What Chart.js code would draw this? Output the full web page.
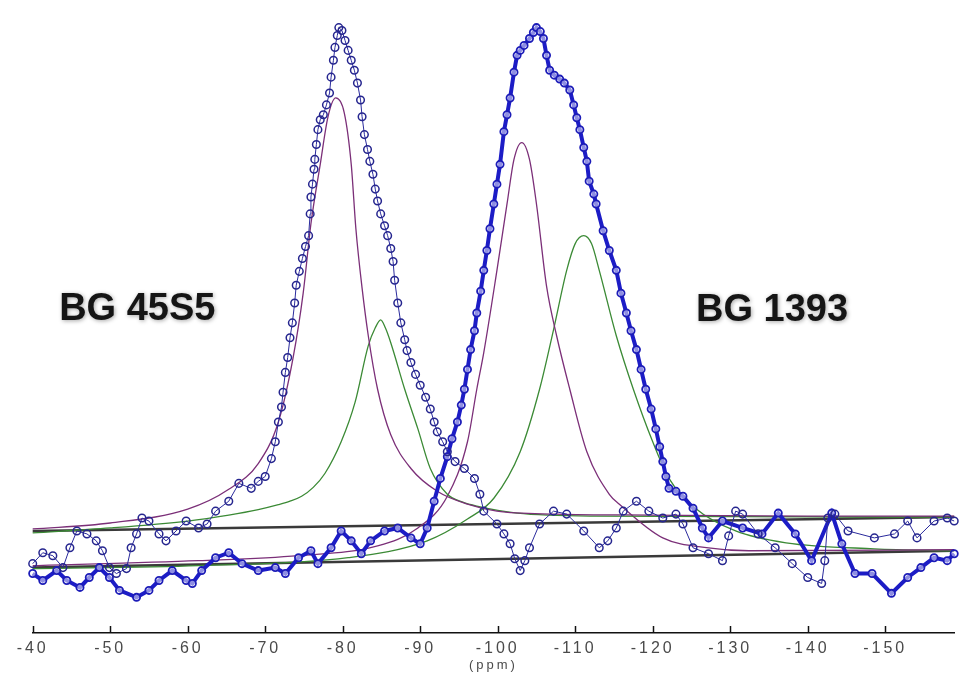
<!DOCTYPE html>
<html>
<head>
<meta charset="utf-8">
<script src="https://cdn.jsdelivr.net/npm/chart.js@4.4.0/dist/chart.umd.min.js"></script>
<style>
  html, body { margin: 0; padding: 0; background: #ffffff; }
  #wrap { width: 960px; height: 677px; }
</style>
</head>
<body>
<div id="wrap"><canvas id="nmr" width="960" height="677"></canvas></div>
<script>
// chemical shift ticks (ppm)
const ppmTicks = [-40, -50, -60, -70, -80, -90, -100, -110, -120, -130, -140, -150];

// BG 45S5 measured spectrum
const bg45Ppm = [-40.0, -41.3, -42.6, -43.9, -44.8, -45.7, -47.0, -48.2, -49.0, -49.9, -50.8, -52.1, -52.7, -53.4, -54.1, -55.0, -56.3, -57.2, -58.5, -59.8, -61.4, -62.5, -63.6, -65.3, -66.6, -68.2, -69.1, -70.0, -70.8, -71.3, -71.7, -72.1, -72.3, -72.6, -72.9, -73.2, -73.5, -73.8, -74.0, -74.4, -74.8, -75.2, -75.6, -75.8, -75.9, -76.1, -76.3, -76.4, -76.6, -76.8, -77.1, -77.5, -77.9, -78.3, -78.5, -78.8, -79.0, -79.3, -79.5, -79.9, -80.3, -80.7, -81.1, -81.5, -81.9, -82.3, -82.5, -82.8, -83.2, -83.5, -83.9, -84.2, -84.5, -84.9, -85.4, -85.8, -86.2, -86.5, -86.7, -87.1, -87.5, -88.0, -88.3, -88.8, -89.4, -90.0, -90.7, -91.3, -91.8, -92.2, -92.9, -93.5, -94.5, -95.7, -97.0, -97.7, -98.2, -99.9, -100.8, -101.6, -102.2, -102.9, -103.5, -104.1, -105.4, -107.2, -108.9, -111.1, -113.1, -114.2, -115.3, -116.2, -117.9, -119.5, -121.3, -123.0, -123.9, -125.2, -127.2, -129.0, -129.8, -130.7, -131.6, -133.6, -135.8, -138.0, -140.0, -141.8, -142.2, -142.6, -143.5, -145.2, -148.6, -151.2, -152.9, -154.1, -156.3, -158.0, -158.9];
const bg45Int = [3.4, 5.6, 5.0, 2.6, 6.6, 10.0, 9.4, 8.0, 6.0, 2.6, 1.4, 2.4, 6.6, 9.4, 12.6, 12.0, 9.4, 8.0, 10.0, 12.0, 10.6, 11.4, 14.0, 16.0, 19.6, 18.6, 20.0, 21.0, 24.6, 28.0, 32.0, 35.0, 38.0, 42.0, 45.0, 49.0, 52.0, 56.0, 59.6, 62.4, 65.0, 67.4, 69.6, 74.0, 77.4, 80.0, 83.0, 85.0, 88.0, 91.0, 93.0, 94.0, 96.0, 98.4, 101.6, 105.0, 107.6, 110.0, 111.6, 111.0, 109.0, 107.0, 105.0, 103.0, 100.4, 97.0, 93.6, 90.0, 87.0, 84.6, 82.0, 79.0, 76.6, 74.0, 71.6, 69.6, 67.0, 64.4, 60.6, 56.0, 52.0, 48.6, 46.4, 44.0, 41.6, 39.4, 37.0, 34.6, 32.0, 30.0, 28.0, 26.0, 24.0, 22.6, 20.6, 17.4, 14.0, 11.4, 9.4, 7.4, 4.4, 2.0, 4.0, 6.6, 11.4, 14.0, 13.4, 10.0, 6.6, 8.0, 10.6, 14.0, 16.0, 14.0, 12.6, 13.4, 11.4, 6.6, 5.4, 4.0, 9.0, 14.0, 13.4, 9.4, 6.6, 3.4, 0.6, -0.6, 4.0, 12.6, 13.4, 10.0, 8.6, 9.4, 12.0, 8.6, 12.0, 12.6, 12.0];

// BG 1393 measured spectrum
const bg1393Ppm = [-40.0, -41.3, -43.1, -44.4, -46.1, -47.3, -48.6, -49.9, -51.2, -53.4, -55.0, -56.3, -58.0, -59.8, -60.6, -61.8, -63.6, -65.3, -67.0, -69.1, -71.3, -72.6, -74.3, -75.9, -76.8, -78.5, -79.8, -81.1, -82.4, -83.6, -85.4, -87.1, -88.8, -90.0, -90.9, -91.8, -92.6, -93.5, -94.1, -94.8, -95.3, -95.7, -96.1, -96.5, -97.0, -97.3, -97.8, -98.2, -98.6, -99.0, -99.5, -99.9, -100.3, -100.8, -101.2, -101.6, -102.1, -102.5, -102.9, -103.4, -104.1, -104.6, -105.0, -105.5, -105.9, -106.3, -106.7, -107.3, -108.0, -108.6, -109.3, -109.8, -110.2, -110.6, -111.1, -111.5, -111.8, -112.4, -112.7, -113.6, -114.4, -115.3, -115.9, -116.6, -117.2, -117.9, -118.5, -119.1, -119.8, -120.4, -120.9, -121.3, -121.7, -122.1, -123.0, -123.9, -125.2, -126.4, -127.2, -129.0, -131.6, -134.1, -136.2, -138.4, -140.5, -143.1, -144.4, -146.1, -148.3, -150.8, -152.9, -154.6, -156.3, -158.0, -158.9];
const bg1393Int = [1.4, 0.0, 2.0, 0.0, -1.4, 0.6, 2.6, 0.6, -2.0, -3.4, -2.0, 0.0, 2.0, 0.0, -0.6, 2.0, 4.6, 5.6, 3.4, 2.0, 2.6, 1.4, 4.6, 6.0, 3.4, 6.6, 10.0, 8.0, 5.4, 8.0, 10.0, 10.6, 8.6, 7.4, 10.6, 16.0, 20.6, 25.0, 28.6, 32.0, 35.4, 38.6, 42.6, 46.6, 50.4, 54.0, 58.4, 62.6, 66.6, 71.0, 76.0, 80.0, 84.0, 90.6, 94.0, 97.4, 102.6, 106.0, 107.0, 108.0, 109.4, 110.6, 111.6, 110.8, 109.4, 106.0, 103.0, 102.0, 101.2, 100.4, 99.0, 96.0, 93.4, 91.0, 87.4, 84.6, 80.6, 78.0, 76.0, 70.6, 66.6, 62.6, 58.0, 54.0, 50.4, 46.6, 42.6, 38.6, 34.6, 30.6, 27.0, 24.0, 21.0, 18.6, 18.0, 17.0, 14.6, 10.6, 8.6, 12.0, 10.6, 9.4, 13.6, 9.4, 4.0, 13.6, 7.4, 1.4, 1.4, -2.6, 0.6, 2.6, 4.6, 4.0, 5.4];

// fitted components, BG 45S5
const fit45aPpm = [-40.0, -50.0, -60.0, -65.3, -69.1, -71.7, -73.6, -74.9, -75.9, -77.1, -78.1, -79.1, -80.2, -81.1, -81.7, -82.5, -83.3, -84.5, -86.2, -88.8, -92.2, -96.1, -99.9, -107.6, -120.0, -140.0, -158.9];
const fit45aInt = [10.4, 11.6, 14.4, 18.4, 23.6, 32.0, 45.0, 58.0, 72.0, 84.0, 93.6, 97.4, 94.4, 84.0, 71.0, 59.0, 49.4, 38.6, 29.4, 22.6, 18.0, 15.4, 14.0, 13.4, 13.2, 13.0, 13.0];
const fit45bPpm = [-40.0, -50.0, -60.0, -65.3, -69.1, -71.7, -73.2, -74.7, -76.2, -77.7, -79.8, -81.6, -83.3, -84.2, -84.9, -85.5, -86.2, -88.0, -89.7, -91.3, -93.5, -95.5, -97.3, -102.5, -112.7, -158.9];
const fit45bInt = [9.6, 10.6, 12.0, 13.2, 14.3, 15.3, 16.0, 17.0, 18.8, 21.6, 28.0, 36.0, 47.4, 51.0, 52.6, 51.0, 48.0, 38.6, 30.6, 22.6, 17.4, 15.8, 15.0, 13.6, 13.0, 12.8];

// fitted components, BG 1393
const fit1393aPpm = [-40.0, -61.4, -74.3, -84.5, -89.7, -93.5, -96.1, -97.3, -98.2, -99.9, -101.2, -102.1, -103.1, -104.1, -105.0, -106.3, -107.6, -109.3, -111.5, -114.4, -115.7, -121.3, -127.2, -132.4, -158.9];
const fit1393aInt = [3.0, 4.0, 5.0, 7.0, 10.6, 17.0, 28.0, 38.6, 46.0, 62.6, 76.0, 85.0, 88.4, 85.0, 76.0, 59.4, 49.4, 38.6, 26.0, 17.4, 15.4, 8.6, 6.6, 6.0, 6.2];
const fit1393bPpm = [-40.0, -61.4, -80.7, -90.9, -96.1, -99.5, -102.9, -105.4, -107.2, -108.9, -110.0, -111.1, -112.1, -113.1, -115.3, -117.5, -120.0, -122.1, -125.5, -130.7, -137.2, -148.6, -158.9];
const fit1393bInt = [2.4, 3.0, 4.6, 8.0, 12.4, 16.6, 26.0, 38.6, 50.6, 62.6, 68.0, 69.6, 68.0, 62.6, 49.4, 38.6, 28.0, 20.6, 14.6, 10.0, 7.6, 6.4, 6.0];

// baselines
const base45Ppm = [-40.0, -158.9];
const base45Int = [10.0, 12.8];
const base1393Ppm = [-40.0, -158.9];
const base1393Int = [2.6, 6.0];

const sampleLabels = [
  { text: 'BG 45S5', ppm: -53.5, level: 52.6 },
  { text: 'BG 1393', ppm: -135.4, level: 52.4 }
];

function toPoints(xs, ys) {
  return xs.map((x, i) => ({ x: x, y: ys[i] }));
}

const lineDefaults = {
  showLine: true,
  pointRadius: 0,
  fill: false,
  clip: false
};

// axis ticks drawn upward from the axis line, plus the sample names
const upTicks = {
  id: 'upTicks',
  beforeDraw(chart) {
    chart.ctx.letterSpacing = '3px';
  },
  beforeDatasetsDraw(chart) {
    chart.ctx.letterSpacing = '0px';
    const xs = chart.scales.x;
    const ctx = chart.ctx;
    const y0 = chart.chartArea.bottom;
    ctx.save();
    ctx.strokeStyle = '#111';
    ctx.lineWidth = 1.5;
    ppmTicks.forEach(v => {
      const px = Math.round(xs.getPixelForValue(v)) + 0.5;
      ctx.beginPath();
      ctx.moveTo(px, y0);
      ctx.lineTo(px, y0 - 7);
      ctx.stroke();
    });
    ctx.restore();
  },
  afterDraw(chart) {
    const ctx = chart.ctx;
    ctx.save();
    ctx.font = 'bold 38px "Liberation Sans", Arial, sans-serif';
    ctx.fillStyle = '#151515';
    ctx.textAlign = 'center';
    ctx.textBaseline = 'alphabetic';
    ctx.shadowColor = 'rgba(0,0,0,0.35)';
    ctx.shadowBlur = 4;
    ctx.shadowOffsetX = 1;
    ctx.shadowOffsetY = 1;
    sampleLabels.forEach(l => {
      ctx.fillText(l.text, chart.scales.x.getPixelForValue(l.ppm), chart.scales.y.getPixelForValue(l.level));
    });
    ctx.restore();
  }
};

const chart = new Chart(document.getElementById('nmr'), {
  type: 'scatter',
  data: {
    datasets: [
      {
        ...lineDefaults,
        label: 'BG 45S5 baseline',
        data: toPoints(base45Ppm, base45Int),
        borderColor: '#3a3a3a',
        borderWidth: 2.5,
        order: 6
      },
      {
        ...lineDefaults,
        label: 'BG 1393 baseline',
        data: toPoints(base1393Ppm, base1393Int),
        borderColor: '#3a3a3a',
        borderWidth: 2.5,
        order: 6
      },
      {
        ...lineDefaults,
        label: 'BG 45S5 fit Q2',
        data: toPoints(fit45aPpm, fit45aInt),
        borderColor: '#7b2f78',
        borderWidth: 1.3,
        cubicInterpolationMode: 'monotone',
        order: 5
      },
      {
        ...lineDefaults,
        label: 'BG 45S5 fit Q3',
        data: toPoints(fit45bPpm, fit45bInt),
        borderColor: '#3b8a35',
        borderWidth: 1.3,
        cubicInterpolationMode: 'monotone',
        order: 5
      },
      {
        ...lineDefaults,
        label: 'BG 1393 fit Q3',
        data: toPoints(fit1393aPpm, fit1393aInt),
        borderColor: '#7b2f78',
        borderWidth: 1.3,
        cubicInterpolationMode: 'monotone',
        order: 5
      },
      {
        ...lineDefaults,
        label: 'BG 1393 fit Q4',
        data: toPoints(fit1393bPpm, fit1393bInt),
        borderColor: '#3b8a35',
        borderWidth: 1.3,
        cubicInterpolationMode: 'monotone',
        order: 5
      },
      {
        label: 'BG 1393',
        data: toPoints(bg1393Ppm, bg1393Int),
        showLine: true,
        borderColor: '#1c1cc6',
        borderWidth: 4,
        pointRadius: 3.6,
        pointBorderWidth: 1.8,
        pointBorderColor: '#1c1cb8',
        pointBackgroundColor: 'rgba(255,255,255,0.5)',
        clip: false,
        order: 2
      },
      {
        label: 'BG 45S5',
        data: toPoints(bg45Ppm, bg45Int),
        showLine: true,
        borderColor: '#2a2a9c',
        borderWidth: 1,
        pointRadius: 3.8,
        pointBorderWidth: 1.5,
        pointBorderColor: '#26268f',
        pointBackgroundColor: 'rgba(255,255,255,0)',
        clip: false,
        order: 1
      }
    ]
  },
  options: {
    responsive: false,
    animation: false,
    devicePixelRatio: 1,
    layout: { padding: { left: 32.7, right: 0, top: 0, bottom: 0 } },
    plugins: {
      legend: { display: false },
      tooltip: { enabled: false }
    },
    scales: {
      x: {
        type: 'linear',
        reverse: true,
        min: -158.9,
        max: -40,
        afterBuildTicks: scale => {
          scale.ticks = ppmTicks.map(v => ({ value: v }));
        },
        grid: { display: false, drawTicks: false },
        border: { display: true, color: '#111', width: 1.5 },
        ticks: {
          padding: 6,
          maxRotation: 0,
          autoSkip: false,
          color: '#4a4a4a',
          font: { family: '"Liberation Sans", Arial, sans-serif', size: 16, lineHeight: 1.2 },
          callback: v => String(v)
        },
        title: {
          display: true,
          text: '(ppm)',
          color: '#4a4a4a',
          font: { family: '"Liberation Sans", Arial, sans-serif', size: 13, lineHeight: 1.1 },
          padding: { top: -5.5, bottom: 4 }
        }
      },
      y: {
        display: false,
        min: -10.6,
        max: 116
      }
    }
  },
  plugins: [upTicks]
});
</script>
</body>
</html>
